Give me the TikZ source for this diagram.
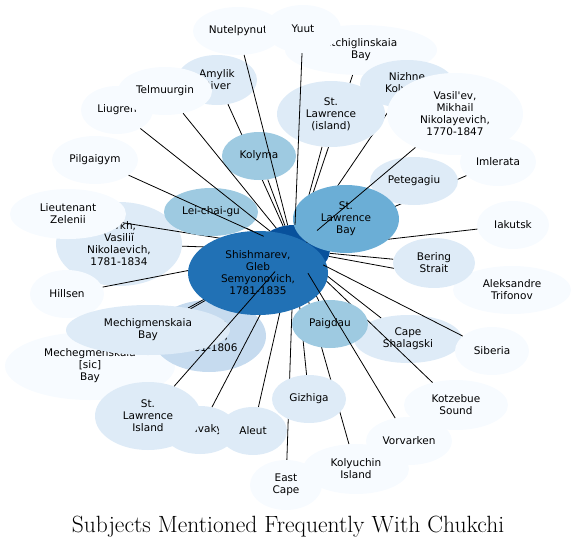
\documentclass[tikz,border=0pt]{standalone}
\usepackage{fontspec}
\newfontfamily\labelfont{DejaVu Sans}
\usetikzlibrary{shapes.geometric}
\definecolor{bl0}{HTML}{F7FBFF}
\definecolor{bl1}{HTML}{DEEBF7}
\definecolor{bl2}{HTML}{C6DBEF}
\definecolor{bl3}{HTML}{9ECAE1}
\definecolor{bl4}{HTML}{6BAED6}
\definecolor{bl6}{HTML}{2171B5}
\definecolor{bl7}{HTML}{08519C}
\pgfdeclarelayer{back}
\pgfdeclarelayer{under}
\pgfsetlayers{back,under,main}

\begin{document}
\begin{tikzpicture}[
  x=1pt,y=-1pt,
  subj/.style={ellipse,inner sep=0pt,align=center,
               font=\labelfont\fontsize{10.5}{12}\selectfont},
  dim/.style 2 args={minimum width=#1pt,minimum height=#2pt},
  link/.style={line width=0.8pt}
]
  \useasboundingbox (0,0) rectangle (576,547);

  % Outer ring (lowest layer)
  \begin{pgfonlayer}{back}
  \node[subj,dim={90}{48},fill=bl0]   (nutel)  at (238,31)  {Nutelpynut};
  \node[subj,dim={152}{50},fill=bl0]  (etchi)  at (361,50)  {Etchiglinskaia\\Bay};
  \node[subj,dim={76}{48},fill=bl0]   (yuut)   at (303,29)  {Yuut};
  \node[subj,dim={80}{50},fill=bl1]   (amyl)   at (217,80)  {Amylik\\River};
  \node[subj,dim={72}{48},fill=bl0]   (liug)   at (117,110) {Liugren};
  \node[subj,dim={94}{48},fill=bl0]   (telm)   at (165,91)  {Telmuurgin};
  \node[subj,dim={86}{48},fill=bl0]   (pilg)   at (95,160)  {Pilgaigym};
  \node[subj,dim={94}{48},fill=bl1]   (nizh)   at (407,84)  {Nizhne\\Kolymsk};
  \node[subj,dim={76}{48},fill=bl0]   (imle)   at (498,162) {Imlerata};
  \node[subj,dim={72}{48},fill=bl0]   (iaku)   at (513,225) {Iakutsk};
  \node[subj,dim={118}{48},fill=bl0]  (trif)   at (512,290) {Aleksandre\\Trifonov};
  \node[subj,dim={126}{84},fill=bl1]  (berkh)  at (119,244) {Berkh,\\Vasiliĭ\\Nikolaevich,\\1781-1834};
  \node[subj,dim={116}{50},fill=bl0]  (zelen)  at (68,214)  {Lieutenant\\Zelenii};
  \node[subj,dim={74}{48},fill=bl0]   (hills)  at (67,294)  {Hillsen};
  \node[subj,dim={170}{68},fill=bl0]  (mecheg) at (90,366)  {Mechegmenskaia\\{[sic]}\\Bay};
  \node[subj,dim={114}{72},fill=bl2]  (bill)   at (209,336) {Billings,\\Joseph,\\1761-1806};
  \node[subj,dim={74}{48},fill=bl1]   (chav)   at (200,430) {Chavaky};
  \node[subj,dim={108}{48},fill=bl1]  (shal)   at (408,339) {Cape\\Shalagski};
  \node[subj,dim={74}{48},fill=bl0]   (sib)    at (492,351) {Siberia};
  \node[subj,dim={72}{50},fill=bl0]   (east)   at (286,485) {East\\Cape};
  \node[subj,dim={106}{50},fill=bl0]  (kolyu)  at (356,469) {Kolyuchin\\Island};
  \node[subj,dim={86}{48},fill=bl0]   (vorv)   at (409,441) {Vorvarken};
  \node[subj,dim={104}{50},fill=bl0]  (kotz)   at (456,405) {Kotzebue\\Sound};
  \node[subj,dim={72}{50},fill=bl7]   (chuk)   at (294,250) {};
  \end{pgfonlayer}

  % Inner ring
  \node[subj,dim={74}{48},fill=bl3]   (kolyma) at (259,156) {Kolyma};
  \node[subj,dim={108}{66},fill=bl1]  (lawi)   at (331,114) {St.\\Lawrence\\(island)};
  \node[subj,dim={136}{82},fill=bl0]  (vasil)  at (455,114) {Vasil\textquotesingle ev,\\Mikhail\\Nikolayevich,\\1770-1847};
  \node[subj,dim={88}{48},fill=bl1]   (peteg)  at (414,181) {Petegagiu};
  \node[subj,dim={106}{68},fill=bl4]  (lawb)   at (346,219) {St.\\Lawrence\\Bay};
  \node[subj,dim={82}{50},fill=bl1]   (bering) at (434,263) {Bering\\Strait};
  \node[subj,dim={94}{48},fill=bl3]   (leichai) at (211,212) {Lei-chai-gu};
  \node[subj,dim={140}{84},fill=bl6]  (shish)  at (258,273) {Shishmarev,\\Gleb\\Semyonovich,\\1781-1835};
  \node[subj,dim={164}{50},fill=bl1]  (mechig) at (148,330) {Mechigmenskaia\\Bay};
  \node[subj,dim={106}{68},fill=bl1]  (lawisl) at (148,416) {St.\\Lawrence\\Island};
  \node[subj,dim={68}{48},fill=bl1]   (aleut)  at (253,431) {Aleut};
  \node[subj,dim={74}{48},fill=bl1]   (gizh)   at (309,399) {Gizhiga};
  \node[subj,dim={76}{48},fill=bl3]   (paig)   at (330,324) {Paigdau};

  % Links running under the inner ring
  \begin{pgfonlayer}{under}
  \draw[link] (chuk)--(amyl);
  \draw[link] (chuk)--(kolyma);
  \draw[link] (chuk)--(leichai);
  \draw[link] (chuk)--(zelen);
  \draw[link] (chuk)--(berkh);
  \draw[link] (chuk)--(hills);
  \draw[link] (chuk)--(mechig);
  \draw[link] (chuk)--(mecheg);
  \draw[link] (chuk)--(bill);
  \draw[link] (chuk)--(chav);
  \draw[link] (chuk)--(aleut);
  \draw[link] (chuk)--(gizh);
  \draw[link] (chuk)--(east);
  \draw[link] (chuk)--(kolyu);
  \draw[link] (chuk)--(nizh);
  \draw[link] (chuk)--(etchi);
  \draw[link] (chuk)--(lawi);
  \draw[link] (chuk)--(imle);
  \draw[link] (chuk)--(peteg);
  \draw[link] (chuk)--(lawb);
  \draw[link] (chuk)--(iaku);
  \draw[link] (chuk)--(bering);
  \draw[link] (chuk)--(trif);
  \draw[link] (chuk)--(shal);
  \draw[link] (chuk)--(paig);
  \draw[link] (chuk)--(kotz);
  \draw[link] (chuk)--(shish);
  \end{pgfonlayer}

  % Links on top
  \draw[link] (chuk)--(nutel);
  \draw[link] (chuk)--(yuut);
  \draw[link] (chuk)--(liug);
  \draw[link] (chuk)--(telm);
  \draw[link] (chuk)--(pilg);
  \draw[link] (chuk)--(vasil);
  \draw[link] (chuk)--(sib);
  \draw[link] (chuk)--(vorv);
  \draw[link] (chuk)--(lawisl);

  \node[font=\fontsize{23.5}{27}\selectfont,anchor=base] (title) at (288,532)
    {Subjects Mentioned Frequently With Chukchi};
\end{tikzpicture}
\end{document}
